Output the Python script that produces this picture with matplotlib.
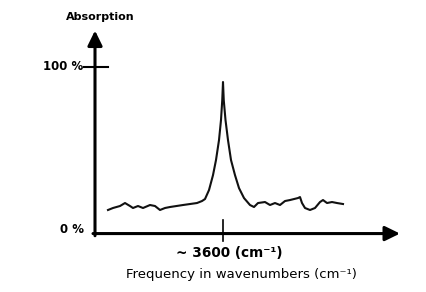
import matplotlib
matplotlib.use("Agg")
import matplotlib.pyplot as plt

# schematic IR absorption spectrum
wavenumber = [3140, 3160, 3188, 3208, 3228, 3240, 3260, 3280, 3308, 3328,
              3348, 3368, 3388, 3440, 3496, 3516, 3528, 3544, 3560, 3572,
              3584, 3592, 3597, 3600, 3603, 3610, 3620, 3632, 3648, 3664,
              3684, 3708, 3724, 3740, 3768, 3788, 3808, 3828, 3848, 3868,
              3900, 3908, 3916, 3928, 3948, 3968, 3988, 4000, 4016, 4036,
              4056, 4080]
absorption = [13.9, 15.1, 16.3, 18.1, 16.3, 15.1, 16.3, 15.1, 16.9, 16.3,
              13.9, 15.1, 15.7, 16.9, 18.1, 19.3, 20.5, 25.9, 34.9, 44.0,
              56.0, 68.1, 80.1, 91.0, 80.1, 68.1, 56.0, 44.0, 34.9, 27.1,
              21.1, 16.9, 15.7, 18.1, 18.7, 16.9, 18.1, 16.9, 19.3, 19.9,
              21.1, 21.7, 18.1, 15.1, 13.9, 15.1, 18.7, 19.9, 18.1, 18.7,
              18.1, 17.5]

peak_label = "~ 3600 (cm\u207b\u00b9)"
x_label = "Frequency in wavenumbers (cm\u207b\u00b9)"
y_label = "Absorption"
y_ticks = [0, 100]
y_tick_labels = ["0 %", "100 %"]
peak_pos = 3600

fig = plt.figure(figsize=(4.26, 2.92), dpi=100)
ax = fig.add_axes([0, 0, 1, 1])
ax.set_xlim(2708, 4412)
ax.set_ylim(-35.5, 140.4)
ax.axis("off")

ax.plot(wavenumber, absorption, color="#111111", lw=1.5, solid_joinstyle="round")

# axes drawn as arrows
arrow = dict(arrowstyle="-|>,head_length=0.45,head_width=0.22", lw=2.2,
             color="black", shrinkA=0, shrinkB=0, mutation_scale=20)
ax.annotate("", xy=(3088, 122), xytext=(3088, -1.6), arrowprops=arrow)
ax.annotate("", xy=(4308, -0.3), xytext=(3080, -0.3), arrowprops=arrow)

# tick marks
ax.plot([3044, 3140], [y_ticks[1], y_ticks[1]], color="black", lw=1.5)
ax.plot([peak_pos, peak_pos], [7.8, -4.8], color="black", lw=1.2)

ax.text(3040, 100.6, y_tick_labels[1], ha="right", va="center",
        fontsize=8.5, fontweight="bold")
ax.text(3044, 2.4, y_tick_labels[0], ha="right", va="center",
        fontsize=8.5, fontweight="bold")
ax.text(3108, 130, y_label, ha="center", va="center", fontsize=8,
        fontweight="bold")
ax.text(3624, -12, peak_label, ha="center", va="center", fontsize=9.8,
        fontweight="bold")
ax.text(3672, -24.7, x_label, ha="center", va="center", fontsize=9.5)

fig.savefig("out.png", dpi=100)
